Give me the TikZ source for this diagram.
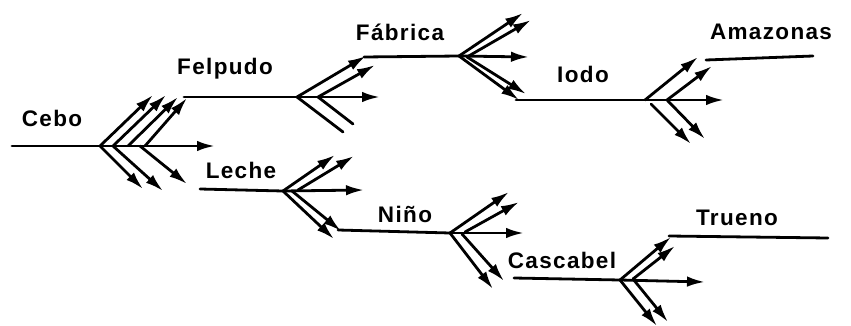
\documentclass[tikz,border=0pt]{standalone}
\usepackage{fontspec}
\setmainfont{Liberation Sans}[LetterSpace=6]
\usetikzlibrary{arrows.meta}
\begin{document}
\begin{tikzpicture}[x=1pt,y=-1pt,
  ln/.style={line width=2.8pt, line cap=round},
  ar/.style={ln, -{Latex[length=18pt,width=10.5pt]}},
  lbl/.style={inner sep=0pt, anchor=base, font=\fontsize{22.5}{27}\selectfont\bfseries}]
\useasboundingbox (0,0) rectangle (851,326);
% labels
\node[lbl] (cebo) at (52,127) {Cebo};
\node[lbl] (felpudo) at (225,75) {Felpudo};
\node[lbl] (fabrica) at (400,41) {Fábrica};
\node[lbl] (iodo) at (583,83) {Iodo};
\node[lbl] (amazonas) at (771,40) {Amazonas};
\node[lbl] (leche) at (241,178) {Leche};
\node[lbl] (nino) at (405,222) {Niño};
\node[lbl] (cascabel) at (562,268) {Cascabel};
\node[lbl] (trueno) at (737,225) {Trueno};
% ---------- Cebo ----------
\coordinate (c0) at (12,146);
\coordinate (cb) at (100,146);
\coordinate (cb2) at (113,146);
\coordinate (cb3) at (128,146);
\coordinate (cb4) at (145,146);
\coordinate (cbd3) at (140,146);
\coordinate (ch) at (215,146);
\coordinate (cu1) at (153,95);
\coordinate (cu2) at (166,95);
\coordinate (cu3) at (178,97);
\coordinate (cu4) at (187,98);
\coordinate (cd1) at (143,189);
\coordinate (cd2) at (163,191);
\coordinate (cd3) at (187,184);
\draw[ln] (c0) -- (cb);
\draw[ar] (cb) -- (ch);
\draw[ar] (cb) -- (cu1);
\draw[ar] (cb2) -- (cu2);
\draw[ar] (cb3) -- (cu3);
\draw[ar] (cb4) -- (cu4);
\draw[ar] (cb) -- (cd1);
\draw[ar] (cb2) -- (cd2);
\draw[ar] (cbd3) -- (cd3);
% ---------- Felpudo ----------
\coordinate (f0) at (184,97);
\coordinate (fb) at (297,97);
\coordinate (fb2) at (318,97);
\coordinate (fh) at (380,97);
\coordinate (fu1) at (366,56);
\coordinate (fu2) at (375,65);
\coordinate (fd1) at (343,132);
\coordinate (fd2) at (353,124);
\draw[ln] (f0) -- (fb);
\draw[ar] (fb) -- (fh);
\draw[ar] (fb) -- (fu1);
\draw[ar] (fb2) -- (fu2);
\draw[ln] (fb) -- (fd1);
\draw[ln] (fb2) -- (fd2);
% ---------- Fabrica ----------
\coordinate (b0) at (364,57);
\coordinate (bb) at (459,56);
\coordinate (bb2) at (467,57);
\coordinate (bh) at (529,57);
\coordinate (bu1) at (523,13);
\coordinate (bu2) at (531,20);
\coordinate (bd1) at (519,100);
\coordinate (bd2) at (526,94);
\draw[ln] (b0) -- (bb);
\draw[ar] (bb) -- (bh);
\draw[ar] (bb) -- (bu1);
\draw[ar] (bb2) -- (bu2);
\draw[ar] (bb) -- (bd1);
\draw[ar] (bb2) -- (bd2);
% ---------- Iodo ----------
\coordinate (i0) at (516,100);
\coordinate (ib) at (645,100);
\coordinate (ib2) at (667,100);
\coordinate (ibd) at (651,104);
\coordinate (ih) at (724,100);
\coordinate (iu1) at (698,57);
\coordinate (iu2) at (712,66);
\coordinate (id1) at (691,144);
\coordinate (id2) at (705,139);
\draw[ln] (i0) -- (ib);
\draw[ar] (ib) -- (ih);
\draw[ar] (ib) -- (iu1);
\draw[ar] (ib2) -- (iu2);
\draw[ar] (ibd) -- (id1);
\draw[ar] (ib2) -- (id2);
% ---------- Amazonas ----------
\coordinate (a0) at (706,60);
\coordinate (a1) at (813,56);
\draw[ln] (a0) -- (a1);
% ---------- Leche ----------
\coordinate (l0) at (200,189);
\coordinate (lb) at (283,191);
\coordinate (lb2) at (298,190);
\coordinate (lb3) at (292,191);
\coordinate (lh) at (364,190);
\coordinate (lu1) at (335,155);
\coordinate (lu2) at (354,156);
\coordinate (ld1) at (334,239);
\coordinate (ld2) at (341,231);
\draw[ln] (l0) -- (lb);
\draw[ar] (lb) -- (lh);
\draw[ar] (lb) -- (lu1);
\draw[ar] (lb2) -- (lu2);
\draw[ar] (lb) -- (ld1);
\draw[ar] (lb3) -- (ld2);
% ---------- Nino ----------
\coordinate (n0) at (338,230);
\coordinate (nb) at (450,233);
\coordinate (nb2) at (465,232);
\coordinate (nb3) at (462,234);
\coordinate (nh) at (524,233);
\coordinate (nu1) at (509,192);
\coordinate (nu2) at (519,202);
\coordinate (nd1) at (493,289);
\coordinate (nd2) at (504,281);
\draw[ln] (n0) -- (nb);
\draw[ar] (nb) -- (nh);
\draw[ar] (nb) -- (nu1);
\draw[ar] (nb2) -- (nu2);
\draw[ar] (nb) -- (nd1);
\draw[ar] (nb3) -- (nd2);
% ---------- Cascabel ----------
\coordinate (k0) at (514,278);
\coordinate (kb) at (620,280);
\coordinate (kb2) at (633,279);
\coordinate (kh) at (705,282);
\coordinate (ku1) at (671,237);
\coordinate (ku2) at (675,246);
\coordinate (kd1) at (657,326);
\coordinate (kd2) at (668,322);
\draw[ln] (k0) -- (kb);
\draw[ar] (kb) -- (kh);
\draw[ar] (kb) -- (ku1);
\draw[ar] (kb2) -- (ku2);
\draw[ar] (kb) -- (kd1);
\draw[ar] (kb2) -- (kd2);
% ---------- Trueno ----------
\coordinate (t0) at (669,236);
\coordinate (t1) at (828,238);
\draw[ln] (t0) -- (t1);
\end{tikzpicture}
\end{document}
